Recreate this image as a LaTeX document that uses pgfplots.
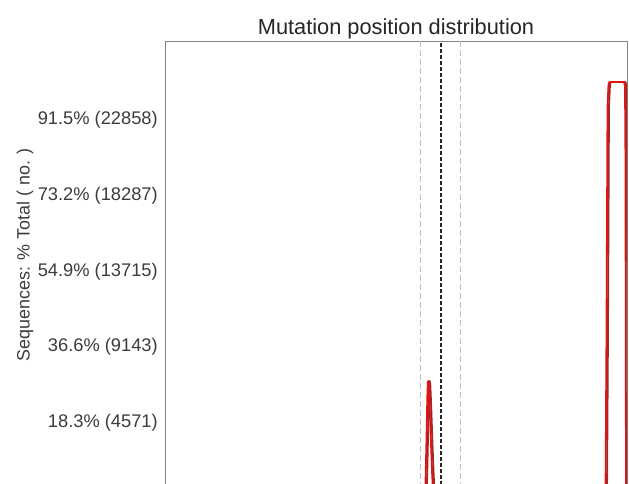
\documentclass[border=0pt]{standalone}
\usepackage{pgfplots}
\pgfplotsset{compat=1.18}
\usepackage{fontspec}
\setmainfont{Liberation Sans}
\definecolor{framegray}{RGB}{130,130,130}
\definecolor{lightdash}{RGB}{190,190,190}
\definecolor{myred}{RGB}{225,20,20}
\definecolor{mydarkred}{RGB}{160,40,40}
\definecolor{ticktext}{RGB}{60,60,60}
\begin{document}
\begin{tikzpicture}
\useasboundingbox (0pt,0pt) rectangle (629pt,-484pt);
\clip (0pt,0pt) rectangle (629pt,-484pt);
\begin{axis}[
  anchor=south west, at={(165pt,-497pt)},
  scale only axis, width=462pt, height=456pt,
  xmin=0, xmax=462, ymin=0, ymax=27516,
  scaled y ticks=false,
  axis line style={framegray, line width=0.9pt},
  xtick=\empty,
  ytick={4571,9143,13715,18287,22858},
  yticklabels={18.3\% (4571),36.6\% (9143),54.9\% (13715),73.2\% (18287),91.5\% (22858)},
  major tick length=0pt,
  yticklabel style={font=\fontsize{18.3}{21}\selectfont, text=ticktext, inner sep=0pt, anchor=base east, xshift=-7pt, yshift=-6.5pt},
  title={Mutation position distribution},
  title style={font=\fontsize{21.8}{24}\selectfont, text=black!85, inner sep=0pt, at={(0.5,1)}, anchor=base, yshift=1pt},
  ylabel={Sequences: \% Total ( no. )},
  ylabel style={font=\fontsize{17.9}{20}\selectfont, text=ticktext, inner sep=0pt, at={(axis description cs:-0.303,0.531)}, anchor=center, rotate=0},
  clip=true,
]
\addplot[lightdash, line width=0.9pt, dash pattern=on 6pt off 3pt] coordinates {(255,0) (255,27516)};
\addplot[lightdash, line width=0.9pt, dash pattern=on 6pt off 3pt] coordinates {(295,0) (295,27516)};
\addplot[black!85, line width=1.3pt, dash pattern=on 4pt off 2pt] coordinates {(276,0) (276,27516)};
\addplot[mydarkred, line width=1.8pt, line join=round] coordinates {
(0,0) (261,0) (262,800) (263,3500) (263.8,6000) (264.3,6900) (264.8,7000) (265.4,6700) (266.3,5300) (267.5,3200) (268.7,1300) (269.5,400) (270,0)
(442,0) (443,10000) (444,23500) (445,24900) (446,25040) (460.5,25040) (461.5,24800) (462,20000) (462.5,0)};
\addplot[myred, line width=1.8pt, line join=round] coordinates {
(0,0) (259.5,0) (260.5,800) (261.5,3500) (262.3,6000) (262.8,6900) (263.3,7000) (263.9,6700) (264.8,5300) (266,3200) (267.2,1300) (268,400) (268.5,0)
(440.5,0) (441.5,10000) (442.5,23500) (443.5,24900) (444.5,25040) (459,25040) (460,24800) (460.5,20000) (461,0) (462,0)};
\end{axis}
\end{tikzpicture}
\end{document}
